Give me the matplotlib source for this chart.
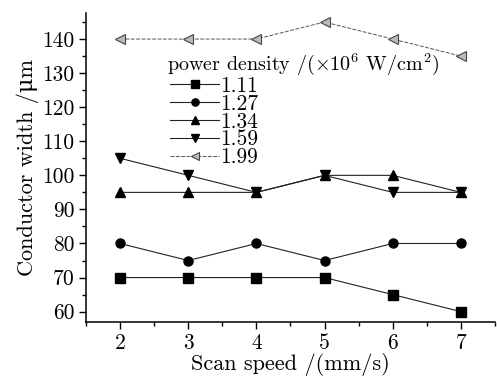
import matplotlib
matplotlib.use("Agg")
import matplotlib.pyplot as plt
from matplotlib.ticker import MultipleLocator

speed = [2, 3, 4, 5, 6, 7]
labels = ["1.11", "1.27", "1.34", "1.59", "1.99"]
w_111 = [70, 70, 70, 70, 65, 60]
w_127 = [80, 75, 80, 75, 80, 80]
w_134 = [95, 95, 95, 100, 100, 95]
w_159 = [105, 100, 95, 100, 95, 95]
w_199 = [140, 140, 140, 145, 140, 135]

plt.rcParams['font.family'] = ['cmr10', 'DejaVu Serif']
plt.rcParams['mathtext.fontset'] = 'cm'
plt.rcParams['axes.unicode_minus'] = False

fig = plt.figure(figsize=(4.97, 3.76), dpi=100)
ax = fig.add_axes([0.173, 0.144, 0.823, 0.821])

series = [w_111, w_127, w_134, w_159, w_199]
markers = ["s", "o", "^", "v", "<"]
for vals, lab, mk in zip(series, labels, markers):
    if lab == "1.99":
        ax.plot(speed, vals, color="#555555", linestyle=(0, (4, 1.5)), linewidth=0.7,
                marker=mk, markersize=6.5, markerfacecolor="#bbbbbb",
                markeredgecolor="#444444", markeredgewidth=0.8, label=lab)
    else:
        ax.plot(speed, vals, color="#222222", linewidth=0.8, marker=mk,
                markersize=6.5, markerfacecolor="black", markeredgecolor="black",
                label=lab)

ax.set_xlim(1.5, 7.5)
ax.set_ylim(57, 147.6)
ax.xaxis.set_major_locator(MultipleLocator(1))
ax.xaxis.set_minor_locator(MultipleLocator(0.5))
ax.yaxis.set_major_locator(MultipleLocator(10))
ax.yaxis.set_minor_locator(MultipleLocator(5))
ax.tick_params(which="major", length=5, width=1, labelsize=15.5, direction="out")
ax.tick_params(which="minor", length=3, width=1, direction="out")
for s in ["top", "right"]:
    ax.spines[s].set_visible(False)
for s in ["left", "bottom"]:
    ax.spines[s].set_linewidth(1.1)

ax.set_xlabel("Scan speed /(mm/s)", fontsize=16, labelpad=0)
ax.set_ylabel("Conductor width /μm", fontsize=16, labelpad=2)

# legend title drawn separately so the gap to the entries can be tight
ax.text(0.198, 0.835, "power density /(×10$^6$ W/cm$^2$)", transform=ax.transAxes,
        fontsize=14.5, ha="left", va="center")
ax.legend(loc="upper left", bbox_to_anchor=(0.205, 0.795), frameon=False,
          fontsize=15.5, handlelength=2.3, handletextpad=0.05, markerscale=0.8,
          labelspacing=-0.08, borderpad=0, borderaxespad=0)

fig.savefig("out.png", dpi=100)
